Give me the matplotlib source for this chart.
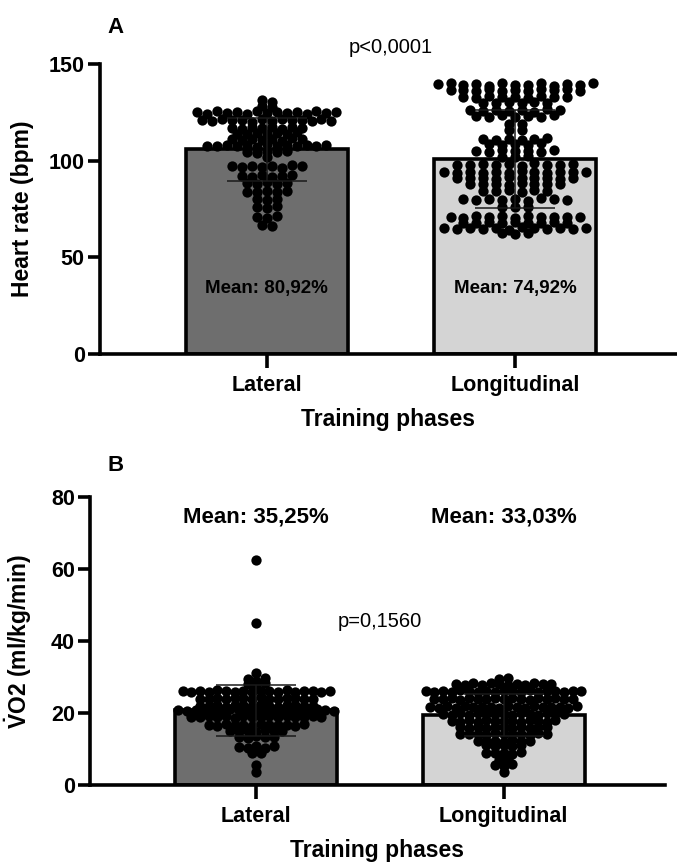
import numpy as np
import matplotlib
matplotlib.use("Agg")
import matplotlib.pyplot as plt

plt.rcParams['font.family'] = ['Liberation Sans', 'DejaVu Sans']
plt.rcParams['mathtext.fontset'] = 'custom'
plt.rcParams['mathtext.rm'] = 'Liberation Sans'
plt.rcParams['mathtext.bf'] = 'Liberation Sans:bold'

categories = ["Lateral", "Longitudinal"]
xlabel = "Training phases"

# panel A - heart rate
hr_mean = [106.0, 100.8]
hr_sd = [16.3, 25.2]
hr_mean_text = ["Mean: 80,92%", "Mean: 74,92%"]
hr_p_text = "p<0,0001"

hr_lateral = [
    131.2, 130.4,
    128.2, 127.8,
    125.0, 124.4, 125.6, 124.8, 125.2, 124.2, 125.8, 124.6, 125.4, 124.9, 125.1, 124.3, 125.7, 124.7, 125.3,
    121.0, 120.4, 121.6, 120.8, 121.2, 120.2, 121.8, 120.6, 121.4, 120.9, 121.1, 120.3, 121.5, 120.7,
    117.0, 116.6, 117.4, 116.8, 117.2, 116.4, 117.6, 117.0,
    114.0, 113.6, 114.4, 113.8, 114.2, 114.0, 114.6,
    111.0, 110.6, 111.4, 110.8, 111.2, 110.4, 111.6, 111.0,
    107.8, 107.4, 108.2, 107.6, 108.0, 107.2, 108.4, 107.8, 108.0, 107.5, 108.3, 107.7, 108.1,
    104.6, 104.2, 105.0, 104.4, 104.8,
    102.0,
    97.0, 96.6, 97.4, 96.8, 97.2, 96.4, 97.6, 97.0,
    92.0, 91.6, 92.4, 91.8, 92.2, 92.6,
    88.4, 88.0, 88.8, 88.2, 88.6,
    84.0, 83.6, 84.4, 83.8, 84.2,
    80.0, 79.6, 80.4,
    76.0, 75.6, 76.4,
    71.0, 70.6, 71.4,
    66.8, 66.2,
]

hr_longitudinal = [
    139.6, 140.2, 139.0, 139.8, 138.8, 140.4, 139.4, 139.2, 140.0, 138.6, 139.6, 139.1, 140.3,
    136.4, 136.8, 136.0, 137.0, 136.2, 136.6, 135.8, 137.2, 136.5, 136.9, 136.1,
    133.0, 132.6, 133.4, 132.8, 133.2, 132.4, 133.6, 133.0, 132.9,
    130.0, 129.8, 130.2, 129.6, 130.4, 130.1,
    126.0, 125.6, 126.4, 125.8, 126.2, 125.4, 126.6, 126.0,
    123.0, 122.6, 123.4, 122.8, 123.2, 122.4, 123.6,
    119.0, 119.2,
    116.0, 115.8,
    111.0, 110.6, 111.4, 110.8, 111.2, 111.6,
    108.5, 108.2, 108.8, 108.0, 109.0,
    105.0, 104.6, 105.4, 104.8, 105.2, 104.4, 105.6,
    102.0, 101.8, 102.2,
    98.0, 97.6, 98.4, 97.8, 98.2, 97.4, 98.6, 98.0, 97.7, 98.3,
    94.0, 93.6, 94.4, 93.8, 94.2, 93.4, 94.6, 94.0, 93.7, 94.3, 93.9, 94.1,
    91.0, 90.8, 91.2, 90.6, 91.4, 91.0, 90.9, 91.1, 90.7, 91.3,
    88.0, 87.8, 88.2, 87.6, 88.4, 88.0, 87.9, 88.1,
    84.5, 84.2, 84.8, 84.0, 85.0, 84.5,
    80.0, 79.6, 80.4, 79.8, 80.2, 79.4, 80.6, 80.0, 79.9,
    76.0, 75.8, 76.2,
    71.0, 70.6, 71.4, 70.8, 71.2, 70.4, 71.6, 71.0, 70.9, 71.1, 70.7,
    68.0, 67.8, 68.2, 67.6, 68.4, 68.0, 67.9, 68.1, 67.7,
    65.0, 64.6, 65.4, 64.8, 65.2, 64.4, 65.6, 65.0, 64.9, 65.1, 64.7, 65.3,
    62.5, 62.2, 62.8,
]

# panel B - VO2
vo2_mean = [20.8, 19.4]
vo2_sd = [7.1, 5.8]
vo2_mean_text = ["Mean: 35,25%", "Mean: 33,03%"]
vo2_p_text = "p=0,1560"

vo2_lateral = [
    62.5, 45.0,
    31.0,
    29.4, 29.0, 29.6,
    28.0, 27.6, 28.2,
    26.0, 25.8, 26.2, 25.7, 26.3, 26.0, 25.9, 26.1, 25.8, 26.2, 26.0, 25.7, 26.3, 25.9, 26.1, 26.0, 25.8, 26.2,
    24.0, 23.9, 24.2, 23.8, 24.3, 24.1, 23.9, 24.4, 24.0, 23.8, 24.2, 24.1, 23.9, 24.0,
    22.0, 21.9, 22.2, 21.8, 22.3, 22.1, 21.9, 22.4, 22.0, 21.8, 22.2, 22.1, 21.9, 22.0,
    20.7, 20.5, 20.9, 20.6, 20.8, 20.4, 21.0, 20.7, 20.6, 20.8, 20.5, 20.9, 20.7, 20.6, 20.8, 20.4, 21.0, 20.7, 20.6,
    19.0, 18.8, 19.2, 18.9, 19.1, 18.7, 19.3, 19.0, 18.9, 19.1, 18.8, 19.2, 19.0, 18.9, 19.1, 19.0,
    16.7, 16.5, 16.9, 16.6, 16.8, 16.4, 17.0, 16.7, 16.6, 16.8, 16.5, 16.9,
    15.0, 14.9, 15.1, 14.8, 15.2, 15.0, 14.9,
    13.3, 13.1, 13.5, 13.2, 13.4,
    10.5, 10.3, 10.7, 10.2, 10.8,
    9.0, 8.8,
    5.5,
    3.6,
]

vo2_longitudinal = [
    29.5, 29.7,
    28.0, 27.8, 28.2, 27.7, 28.3, 28.0, 27.9, 28.1, 27.8, 28.2, 28.0, 28.1,
    26.0, 25.8, 26.2, 25.7, 26.3, 26.0, 25.9, 26.1, 25.8, 26.2, 26.0, 25.7, 26.3, 25.9, 26.1, 26.0, 25.8, 26.2, 26.0,
    24.0, 23.8, 24.2, 23.7, 24.3, 24.0, 23.9, 24.1, 23.8, 24.2, 24.0, 23.7, 24.3, 23.9, 24.1, 24.0, 23.8,
    21.7, 21.5, 21.9, 21.4, 22.0, 21.7, 21.6, 21.8, 21.5, 21.9, 21.7, 21.4, 22.0, 21.6, 21.8, 21.7, 21.5, 21.9,
    19.7, 19.5, 19.9, 19.4, 20.0, 19.7, 19.6, 19.8, 19.5, 19.9, 19.7, 19.4, 20.0, 19.6, 19.8,
    17.8, 17.6, 18.0, 17.5, 18.1, 17.8, 17.7, 17.9, 17.6, 18.0, 17.8, 17.5, 18.1,
    16.0, 15.9, 16.1, 15.8, 16.2, 16.0, 15.9, 16.1, 15.8, 16.2, 16.0,
    14.2, 14.1, 14.3, 14.0, 14.4, 14.2, 14.1, 14.3, 14.0, 14.4, 14.2,
    12.2, 12.1, 12.3, 12.0, 12.4, 12.2, 12.1,
    11.0, 10.9, 11.1, 10.8, 11.2,
    8.9, 8.8, 9.0, 8.7, 9.1,
    7.0, 6.9,
    5.5, 5.3, 5.7,
    3.6,
]

bar_colors = ["#6e6e6e", "#d4d4d4"]


def swarm_offsets(values, bin_h, step):
    # group close values into rows, then spread each row sideways
    values = np.asarray(values, dtype=float)
    order = np.argsort(values, kind="stable")
    rows = []
    current = []
    start = None
    for i in order:
        if start is None or values[i] > start + bin_h:
            if current:
                rows.append(current)
            current = [i]
            start = values[i]
        else:
            current.append(i)
    if current:
        rows.append(current)

    offsets = np.zeros(len(values))
    for row in rows:
        row = sorted(row)
        n = len(row)
        pos = (np.arange(n) - (n - 1) / 2.0) * step
        for j, i in enumerate(row):
            offsets[i] = pos[j]
    return offsets


def draw_panel(ax, means, sds, groups, bin_h, steps, ylim, yticks, ylabel, label_x):
    x = np.arange(len(categories))
    ax.bar(x, means, width=0.655, color=bar_colors, edgecolor="black",
           linewidth=2.6, zorder=1)
    for xi, vals, step in zip(x, groups, steps):
        off = swarm_offsets(vals, bin_h, step)
        ax.scatter(xi + off, vals, s=55, color="black", linewidths=0,
                   zorder=3, clip_on=False)
    ax.errorbar(x, means, yerr=sds, fmt="none", ecolor="#1a1a1a",
                elinewidth=1.1, capsize=29, capthick=1.1, zorder=4)

    ax.set_xlim(-0.672, 1.652)
    ax.set_ylim(*ylim)
    ax.set_yticks(yticks)
    ax.set_xticks(x)
    ax.set_xticklabels(categories, fontsize=15.5, fontweight="bold")
    ax.tick_params(axis="y", labelsize=15.5, width=2.6, length=9, pad=2)
    ax.tick_params(axis="x", width=2.6, length=10, pad=5)
    for lab in ax.get_yticklabels():
        lab.set_fontweight("bold")
    for side in ["top", "right"]:
        ax.spines[side].set_visible(False)
    for side in ["left", "bottom"]:
        ax.spines[side].set_linewidth(2.6)
    ax.set_xlabel(xlabel, fontsize=16.5, fontweight="bold", labelpad=9)
    ax.set_ylabel(ylabel, fontsize=16.5, fontweight="bold")
    ax.yaxis.set_label_coords(label_x, 0.5)


fig = plt.figure(figsize=(6.77, 8.63), dpi=100)

ax_a = fig.add_axes([0.1477, 0.5898, 0.8523, 0.3360])
draw_panel(ax_a, hr_mean, hr_sd, [hr_lateral, hr_longitudinal], 1.8,
           [0.040, 0.052], (0, 150), [0, 50, 100, 150], "Heart rate (bpm)", -0.115)
for xi, txt in enumerate(hr_mean_text):
    ax_a.text(xi, 34, txt, ha="center", va="center", fontsize=13.5, fontweight="bold")
ax_a.text(0.5, 158.5, hr_p_text, ha="center", va="center", fontsize=14.5)
ax_a.text(-0.61, 169, "A", ha="center", va="center", fontsize=16, fontweight="bold")

ax_b = fig.add_axes([0.1330, 0.0904, 0.8490, 0.3337])
draw_panel(ax_b, vo2_mean, vo2_sd, [vo2_lateral, vo2_longitudinal], 1.0,
           [0.035, 0.035], (0, 80), [0, 20, 40, 60, 80],
           r"$\mathbf{\dot{V}}$O2 (ml/kg/min)", -0.098)
for xi, txt in enumerate(vo2_mean_text):
    ax_b.text(xi, 74.4, txt, ha="center", va="center", fontsize=16, fontweight="bold")
ax_b.text(0.5, 45.3, vo2_p_text, ha="center", va="center", fontsize=14.5)
ax_b.text(-0.57, 88.8, "B", ha="center", va="center", fontsize=16, fontweight="bold")

fig.savefig("out.png", dpi=100)
